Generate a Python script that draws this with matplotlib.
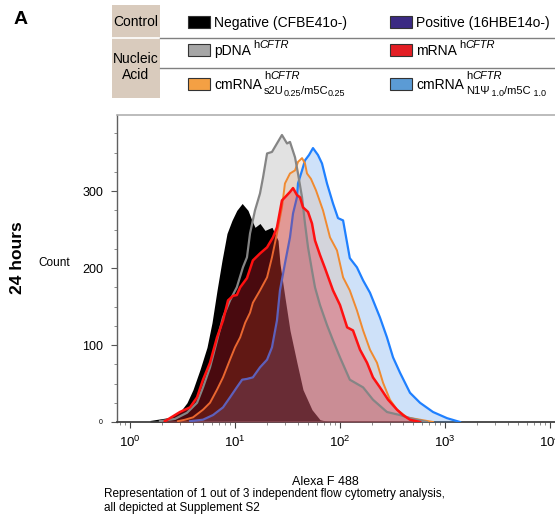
import matplotlib
matplotlib.use("Agg")
import matplotlib.pyplot as plt
from matplotlib.patches import Rectangle
from matplotlib.ticker import MultipleLocator, LogLocator

plt.rcParams['font.family'] = ['Liberation Sans', 'DejaVu Sans']
plt.rcParams['mathtext.fontset'] = 'custom'
plt.rcParams['mathtext.rm'] = 'Liberation Sans'
plt.rcParams['mathtext.it'] = 'Liberation Sans:italic'

# histogram traces (fluorescence, count)
neg_x = [1.55, 1.93, 2.40, 2.99, 3.49, 3.98, 4.64, 5.41, 6.04, 6.74, 7.52, 8.39, 9.36, 10.4,
         11.7, 13.3, 14.5, 15.5, 17.3, 19.3, 22.5, 25.7, 26.8, 29.9, 33.4, 38.9, 44.4, 54.1,
         64.5, 80.3]
neg_y = [2, 4, 6, 13, 25, 42, 68, 97, 129, 171, 210, 245, 262, 275,
         284, 275, 262, 253, 258, 249, 253, 236, 206, 162, 119, 77, 42, 16,
         3, 0]

pdna_x = [1.93, 2.68, 3.49, 4.35, 4.96, 5.78, 6.74, 7.69, 8.96, 10.4, 11.9, 13.0, 13.9, 15.5,
          17.3, 18.5, 20.2, 22.5, 25.1, 28.0, 31.3, 33.4, 37.3, 39.8, 43.5, 46.4, 49.6, 54.1,
          57.8, 64.5, 75.2, 85.8, 100, 124, 166, 206, 280, 373, 464, 674]
pdna_y = [1, 4, 12, 25, 45, 71, 106, 136, 158, 175, 201, 214, 245, 275,
          297, 318, 349, 351, 362, 373, 362, 364, 344, 323, 292, 258, 227, 197,
          175, 152, 126, 106, 84, 55, 45, 29, 13, 9, 5, 0]

mrna_x = [2.15, 2.40, 2.99, 3.73, 4.35, 4.96, 5.78, 6.74, 7.69, 8.58, 9.57, 10.4, 11.2, 13.0,
          14.8, 17.3, 20.2, 23.0, 25.1, 28.0, 29.9, 33.4, 35.7, 38.9, 41.6, 44.4, 49.6, 54.1,
          57.8, 64.5, 71.9, 85.8, 100, 117, 133, 155, 181, 206, 240, 287, 349, 398, 464, 578]
mrna_y = [1, 5, 13, 19, 32, 55, 77, 110, 132, 158, 164, 165, 175, 187,
          210, 219, 227, 240, 253, 288, 292, 299, 304, 295, 292, 279, 273, 258,
          236, 217, 200, 171, 152, 123, 119, 94, 77, 58, 45, 29, 16, 9, 3, 0]

s2u_x = [2.86, 3.34, 3.98, 4.96, 5.78, 6.74, 7.69, 8.96, 10.0, 11.2, 12.5, 13.9, 14.8, 17.3,
         20.2, 22.5, 25.1, 28.0, 29.9, 33.4, 37.3, 39.8, 43.5, 46.4, 48.5, 52.9, 59.1, 68.9,
         80.3, 93.6, 107, 124, 145, 166, 193, 225, 257, 299, 349, 435, 578, 769]
s2u_y = [1, 3, 6, 16, 25, 42, 58, 81, 97, 110, 129, 142, 155, 171,
         188, 214, 245, 279, 310, 323, 327, 338, 343, 336, 323, 316, 301, 275,
         240, 223, 188, 171, 145, 119, 94, 77, 51, 29, 16, 6, 3, 0]

n1p_x = [3.73, 4.96, 6.17, 7.69, 8.96, 10.4, 11.7, 13.0, 14.8, 17.3, 20.2, 22.5, 25.1, 26.8,
         29.9, 33.4, 35.7, 38.9, 39.8, 43.5, 46.4, 50.7, 55.3, 61.7, 67.4, 75.2, 85.8, 95.7,
         107, 124, 145, 166, 193, 240, 280, 320, 373, 464, 578, 769, 1045, 1389]
n1p_y = [1, 3, 9, 19, 32, 45, 55, 56, 58, 71, 81, 97, 132, 171,
         206, 240, 271, 292, 310, 327, 340, 347, 356, 347, 336, 310, 284, 265,
         262, 213, 201, 184, 168, 136, 110, 84, 64, 38, 25, 13, 5, 0]

# legend entries: name, superscript, subscript pieces (text, nested?)
legend_names = ['Negative (CFBE41o-)', 'Positive (16HBE14o-)', 'pDNA', 'mRNA', 'cmRNA', 'cmRNA']
legend_sup = [None, None, 'CFTR', 'CFTR', 'CFTR', 'CFTR']
legend_sub = [None, None, None, None,
              [('s2U', False), ('0.25', True), ('/m5C', False), ('0.25', True)],
              [('N1\u03a8', False), (' 1.0', True), ('/m5C', False), (' 1.0', True)]]
legend_colors = ['#000000', '#3b2a83', '#a6a6a6', '#e31e24', '#f4a044', '#5b9bd5']
group_labels = ['Control', 'Nucleic\nAcid']

W, H = 555, 517


def fx(px):
    return px / W


def fy(py):
    return 1 - py / H


fig = plt.figure(figsize=(5.55, 5.17), dpi=100)
renderer = fig.canvas.get_renderer()
ax = fig.add_axes([fx(117), fy(422), 438 / W, 307 / H])

# fills (layer order gives the blended colours)
ax.fill_between(pdna_x, pdna_y, 0, color='#e2e2e2', lw=0, zorder=1)
ax.fill_between(neg_x, neg_y, 0, color='#000000', lw=0, zorder=2)
ax.fill_between(n1p_x, n1p_y, 0, color='#3d8be8', alpha=0.25, lw=0, zorder=3)
ax.fill_between(s2u_x, s2u_y, 0, color='#f09030', alpha=0.15, lw=0, zorder=4)
ax.plot(n1p_x, n1p_y, color='#1f80ff', lw=1.6, zorder=5)
ax.plot(s2u_x, s2u_y, color='#f08a30', lw=1.4, zorder=5)
ax.fill_between(mrna_x, mrna_y, 0, color='#e02030', alpha=0.33, lw=0, zorder=6)
ax.plot(pdna_x, pdna_y, color='#858585', lw=1.6, zorder=7)
ax.plot(mrna_x, mrna_y, color='#ff1010', lw=1.8, zorder=7)

ax.set_xscale('log')
ax.set_xlim(10 ** (-13 / 105), 10 ** (425 / 105))
ax.set_ylim(0, 399)
ax.xaxis.set_major_locator(LogLocator(base=10, numticks=10))
ax.xaxis.set_minor_locator(LogLocator(base=10, subs=range(2, 10), numticks=50))
ax.set_yticks([0, 100, 200, 300])
ax.set_yticklabels(['0', '100', '200', '300'])
ax.yaxis.set_minor_locator(MultipleLocator(25))
ax.tick_params(axis='y', which='major', direction='out', length=4, width=0.8,
               color='#555555', labelsize=9, pad=6)
ax.tick_params(axis='y', which='minor', direction='out', length=2.5, width=0.6, color='#777777')
ax.tick_params(axis='x', which='major', direction='out', length=4, width=0.8,
               color='#444444', labelsize=9.5, pad=5)
ax.tick_params(axis='x', which='minor', direction='out', length=2, width=0.6, color='#777777')
ax.get_yticklabels()[0].set_fontsize(5)

ax.spines['right'].set_visible(False)
ax.spines['top'].set_color('#b0b0b0')
ax.spines['top'].set_linewidth(1.2)
ax.spines['left'].set_color('#606060')
ax.spines['left'].set_linewidth(1.0)
ax.spines['bottom'].set_color('#404040')
ax.spines['bottom'].set_linewidth(1.3)

# labels around the plot
fig.text(fx(21), fy(20), 'A', fontsize=14, fontweight='bold', ha='center', va='center')
fig.text(fx(18), fy(258), '24 hours', rotation=90, fontsize=12.5, fontweight='bold',
         ha='center', va='center')
fig.text(fx(54), fy(263), 'Count', fontsize=8.5, ha='center', va='center')
fig.text(fx(325), fy(482), 'Alexa F 488', fontsize=9, ha='center', va='center')
fig.text(fx(104), fy(494), 'Representation of 1 out of 3 independent flow cytometry analysis,',
         fontsize=8.5, ha='left', va='center')
fig.text(fx(104), fy(508), 'all depicted at Supplement S2', fontsize=8.5, ha='left', va='center')

# legend table
fig.patches.append(Rectangle((fx(112), fy(98)), 48 / W, 93 / H, transform=fig.transFigure,
                             facecolor='#d9cbbd', edgecolor='none'))
fig.lines.append(plt.Line2D([fx(112), fx(160)], [fy(38), fy(38)], transform=fig.transFigure,
                            color='white', lw=1.2))
for yy in [38, 68]:
    fig.lines.append(plt.Line2D([fx(160), fx(555)], [fy(yy), fy(yy)], transform=fig.transFigure,
                                color='#808080', lw=1.0))
fig.text(fx(136), fy(22), group_labels[0], fontsize=10, ha='center', va='center')
fig.text(fx(136), fy(67), group_labels[1], fontsize=10, ha='center', va='center',
         linespacing=1.25)


def put(x, base, txt, size, style='normal'):
    t = fig.text(fx(x), fy(base), txt, fontsize=size, style=style, ha='left', va='baseline')
    return t.get_window_extent(renderer).x1


row_base = [27, 55, 89]
row_mid = [22, 50, 84]
col_x = [188, 390]
for i in range(len(legend_names)):
    r, c = divmod(i, 2)
    x0 = col_x[c]
    fig.patches.append(Rectangle((fx(x0), fy(row_mid[r] + 6)), 22 / W, 12 / H,
                                 transform=fig.transFigure, facecolor=legend_colors[i],
                                 edgecolor='#333333', lw=0.8))
    base = row_base[r]
    xe = put(x0 + 26, base, legend_names[i], 10) + 2
    if legend_sup[i]:
        up = 7 if legend_sub[i] is None else 10
        xs = put(xe, base - up, 'h', 8)
        put(xs, base - up, legend_sup[i], 8, 'italic')
    if legend_sub[i]:
        xs = xe
        for piece, nested in legend_sub[i]:
            if nested:
                xs = put(xs, base + 7, piece, 6.5)
            else:
                xs = put(xs, base + 5, piece, 8)

fig.savefig('out.png', dpi=100)
